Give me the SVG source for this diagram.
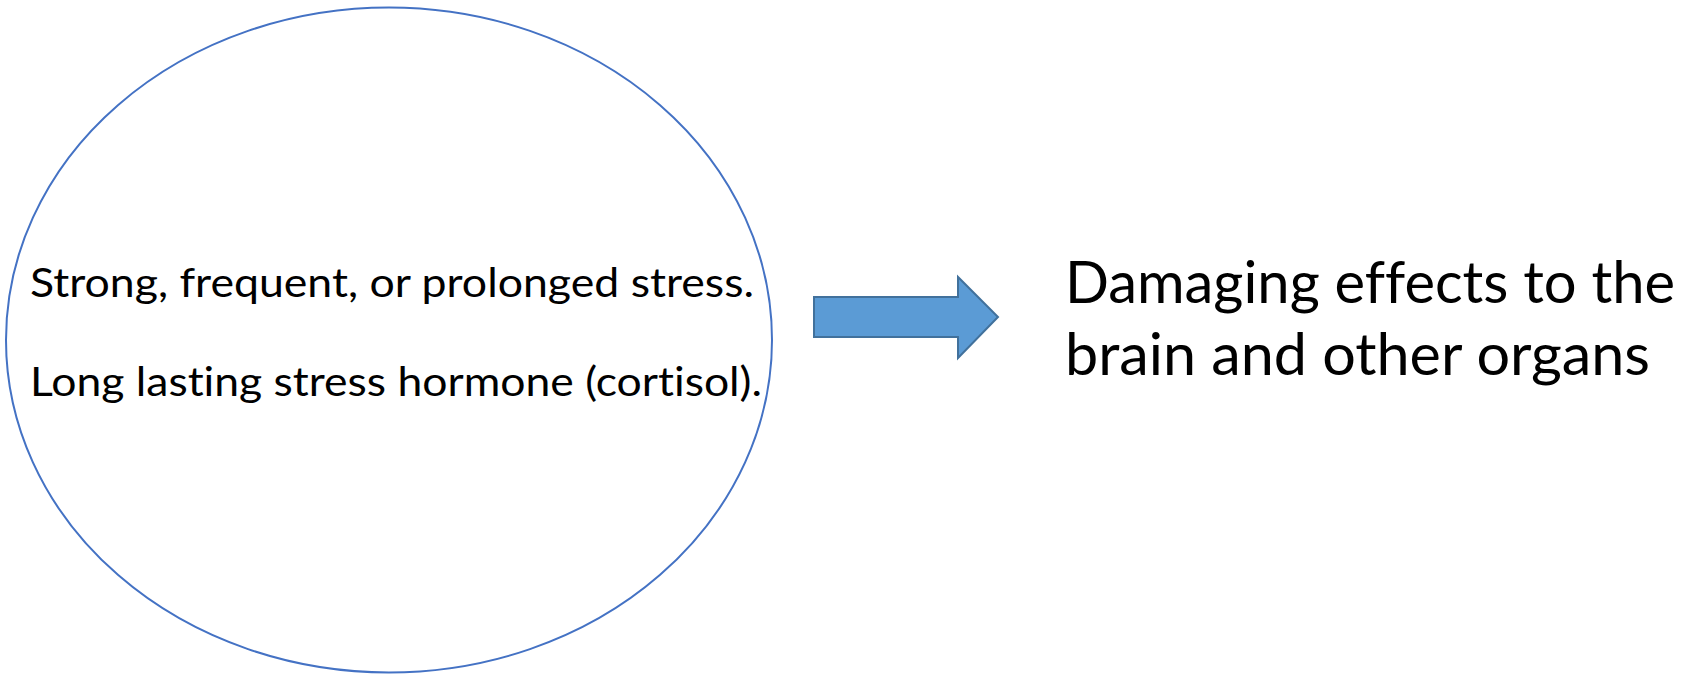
<svg xmlns="http://www.w3.org/2000/svg" width="1691" height="675" viewBox="0 0 1691 675">
<style>
.lbl{font-family:Lato,"Open Sans","Liberation Sans",sans-serif;fill:#000000;font-variant-ligatures:none;}
.small{font-size:41px;}
.big{font-size:58px;}
</style>
<rect width="1691" height="675" fill="#ffffff"/>
<g id="ellipse-node">
<ellipse cx="389" cy="340" rx="383" ry="332.5" fill="#ffffff" stroke="#4472C4" stroke-width="2"/>
<text class="lbl small" x="30" y="297" textLength="724" lengthAdjust="spacingAndGlyphs">Strong, frequent, or prolonged stress.</text>
<text class="lbl small" x="30" y="396" textLength="732" lengthAdjust="spacingAndGlyphs">Long lasting stress hormone (cortisol).</text>
</g>
<g id="connectors">
<path d="M814,297 L958,297 L958,277 L998,317 L958,358 L958,337 L814,337 Z" fill="#5B9BD5" stroke="#41719C" stroke-width="2" stroke-linejoin="miter"/>
</g>
<g id="result-node">
<text class="lbl big" x="1065" y="303" textLength="610" lengthAdjust="spacingAndGlyphs">Damaging effects to the</text>
<text class="lbl big" x="1065" y="375" textLength="585" lengthAdjust="spacingAndGlyphs">brain and other organs</text>
</g>
</svg>
